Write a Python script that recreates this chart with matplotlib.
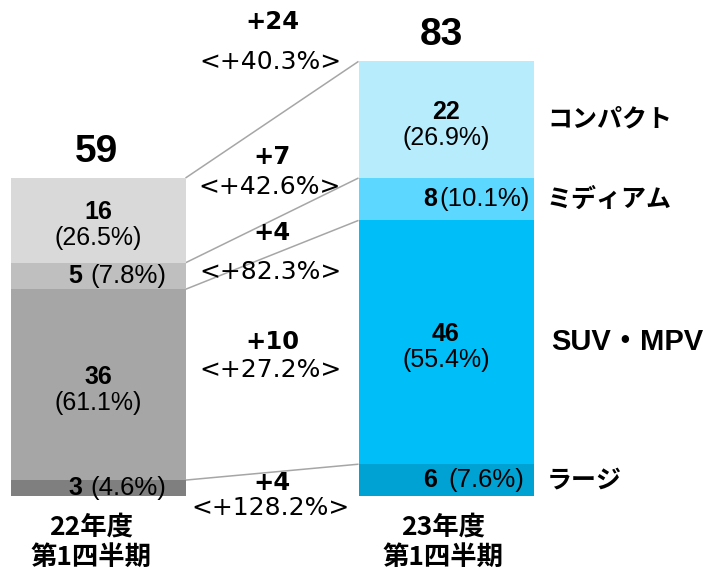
import matplotlib
matplotlib.use("Agg")
import matplotlib.pyplot as plt

# ---------------- data ----------------
periods = ["22年度\n第1四半期", "23年度\n第1四半期"]
segments = ["ラージ", "SUV・MPV", "ミディアム", "コンパクト"]   # bottom -> top
fy22 = [3, 36, 5, 16]
fy23 = [6, 46, 8, 22]
share22 = ["(4.6%)", "(61.1%)", "(7.8%)", "(26.5%)"]
share23 = ["(7.6%)", "(55.4%)", "(10.1%)", "(26.9%)"]
totals = [59, 83]
seg_diff = ["+4", "+10", "+4", "+7"]
seg_growth = ["<+128.2%>", "<+27.2%>", "<+82.3%>", "<+42.6%>"]
total_diff = "+24"
total_growth = "<+40.3%>"

# ---------------- style ----------------
colors22 = ["#7f7f7f", "#a6a6a6", "#bfbfbf", "#d9d9d9"]
colors23 = ["#00a2d3", "#00bef8", "#5cd7ff", "#b6ecfc"]
LAT = "Liberation Sans"
WIDE = "DejaVu Sans"
JP = ["Noto Sans CJK JP", "DejaVu Sans"]
MIX = ["Liberation Sans", "Noto Sans CJK JP", "DejaVu Sans"]

W, H = 711, 571
fig = plt.figure(figsize=(W / 100, H / 100), dpi=100)
ax = fig.add_axes([0, 0, 1, 1])
ax.axis("off")

# pixel layout helpers
PXU = 5.3        # px per unit
Y0 = 496         # px of baseline
XC0, DX = 98, 348  # px of first bar center, px between bars
ax.set_xlim(-XC0 / DX, (W - XC0) / DX)
ax.set_ylim((Y0 - H) / PXU, Y0 / PXU)


def px2x(px):
    return (px - XC0) / DX


def px2y(py):
    return (Y0 - py) / PXU


def dy(py_off):
    return -py_off / PXU


bw = 175 / DX
xs = [0, 1]

# stacked bars
cum = [[0], [0]]
for i, (vals, cols) in enumerate([(fy22, colors22), (fy23, colors23)]):
    b = 0
    for v, c in zip(vals, cols):
        ax.bar(xs[i], v, bottom=b, width=bw, color=c, edgecolor="none", zorder=2)
        b += v
        cum[i].append(b)

# connector lines
for k in range(1, len(cum[0])):
    ax.plot([xs[0] + bw / 2, xs[1] - bw / 2], [cum[0][k], cum[1][k]],
            color="#a6a6a6", lw=1.1, zorder=1, solid_capstyle="butt")

# totals
for i, t in enumerate(totals):
    ax.text(xs[i] - 0.003 * (1 - i) - 0.014 * i, cum[i][-1] + dy(-26), str(t),
            ha="center", va="center", fontsize=28, fontweight="bold", family=LAT)

# segment labels
two_line = {1, 3}
for i, (vals, shares) in enumerate([(fy22, share22), (fy23, share23)]):
    for k, (v, s) in enumerate(zip(vals, shares)):
        mid = cum[i][k] + v / 2
        if k in two_line:
            ax.text(xs[i], mid + dy(-8), str(v), ha="center",
                    va="center", fontsize=18, fontweight="bold", family=LAT, zorder=3)
            ax.text(xs[i], mid + dy(18), s, ha="center", va="center",
                    fontsize=18, family=LAT, zorder=3)
        else:
            if i == 0:
                nx, gap = 82, 8
            else:
                nx, gap = 437, (2 if k == 2 else 11)
            ax.text(px2x(nx), mid, str(v), ha="right", va="center",
                    fontsize=18, fontweight="bold", family=LAT, zorder=3)
            ax.text(px2x(nx + gap), mid, s, ha="left", va="center",
                    fontsize=18.5, family=LAT, zorder=3)

# change labels between bars (pixel layout)
chg_pos = [(483, 508), (342, 370), (233, 272), (157, 187)]
for (py1, py2), d, g in zip(chg_pos, seg_diff, seg_growth):
    ax.text(px2x(272), px2y(py1), d, ha="center", va="center", fontsize=17.5,
            fontweight="bold", family=WIDE)
    ax.text(px2x(270), px2y(py2), g, ha="center", va="center", fontsize=18, family=WIDE)
ax.text(px2x(272), px2y(22), total_diff, ha="center", va="center", fontsize=17.5,
        fontweight="bold", family=WIDE)
ax.text(px2x(270), px2y(62), total_growth, ha="center", va="center", fontsize=18, family=WIDE)

# category labels on the right
for k, name in enumerate(segments):
    mid = cum[1][k] + fy23[k] / 2
    if name.isascii() or "MPV" in name:
        ax.text(px2x(551), mid, name, ha="left", va="center", fontsize=21,
                fontweight="bold", family=MIX)
    else:
        ax.text(px2x(547), mid, name, ha="left", va="center", fontsize=18,
                fontweight="bold", family=JP)

# period labels
for i, p in enumerate(periods):
    l1, l2 = p.split("\n")
    xc = xs[i] + px2x(XC0 - (7 if i == 0 else 3))
    ax.text(xc, px2y(527), l1, ha="center", va="center", fontsize=19,
            fontweight="bold", family=JP)
    ax.text(xc, px2y(557), l2, ha="center", va="center", fontsize=19,
            fontweight="bold", family=JP)

fig.savefig("out.png", dpi=100)
